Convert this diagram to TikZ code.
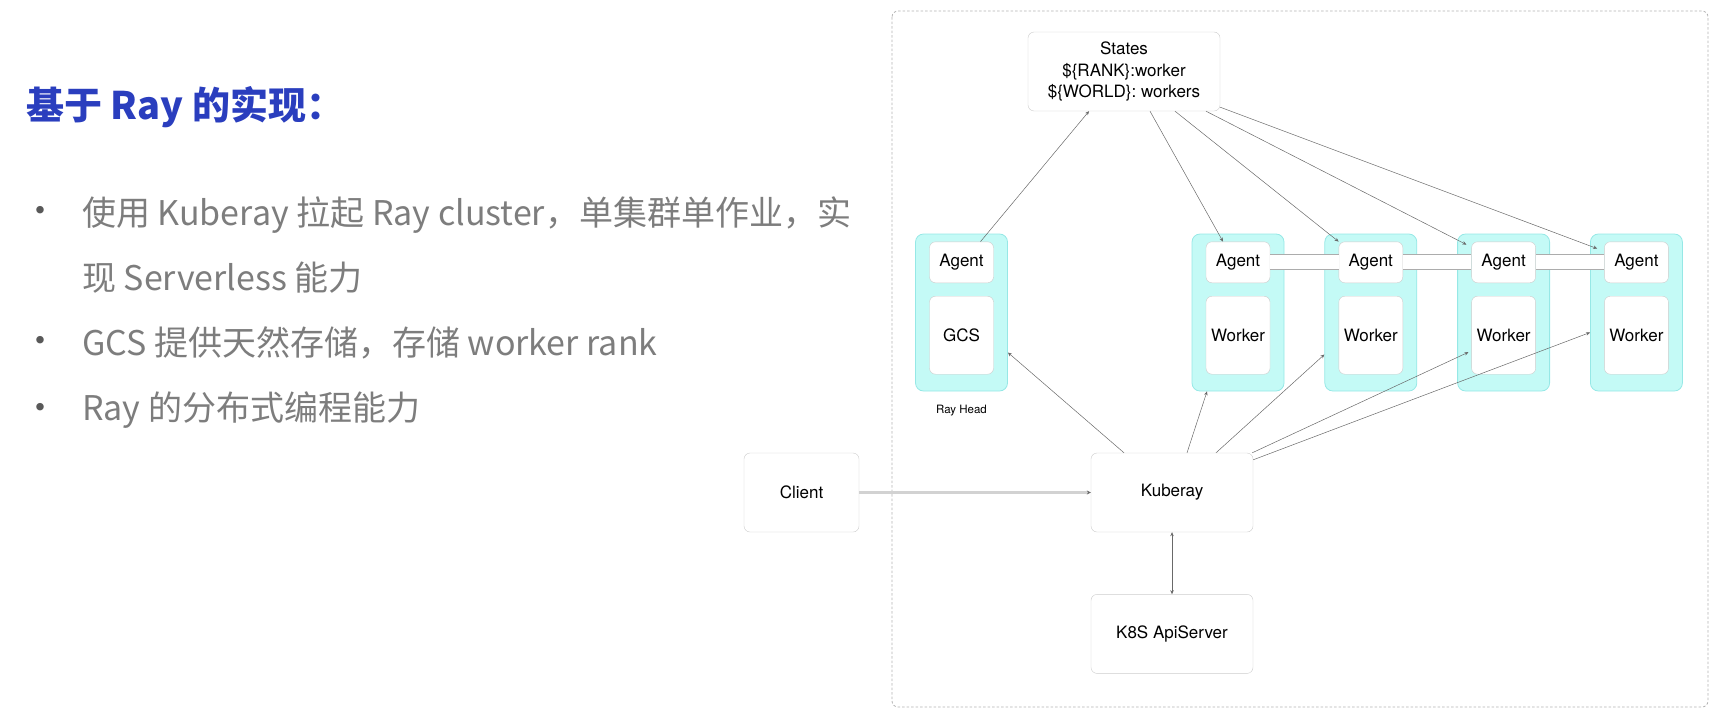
\documentclass[tikz,border=0pt]{standalone}
\usepackage{fontspec}
\setmainfont{TeX Gyre Heros}
\newfontfamily\cjk{Noto Sans CJK SC}
\usetikzlibrary{arrows.meta,positioning}
\definecolor{podfill}{RGB}{196,250,246}
\definecolor{podline}{RGB}{150,232,230}
\definecolor{titleblue}{RGB}{42,62,190}
\definecolor{textgray}{RGB}{125,125,125}
\definecolor{linegray}{RGB}{105,105,105}

\begin{document}
\begin{tikzpicture}[x=1pt,y=-1pt]
	\tikzstyle{box}=[draw=gray!40, fill=white, rounded corners=6pt, inner sep=0pt, align=center, font=\fontsize{17}{21.5}\selectfont]
	\tikzstyle{pod}=[draw=podline, fill=podfill, line width=0.8pt, rounded corners=8pt, minimum width=92pt, minimum height=157pt]
	\tikzstyle{agentbox}=[box, minimum width=64pt, minimum height=41pt]
	\tikzstyle{workbox}=[box, minimum width=64pt, minimum height=78pt]
	\tikzstyle{bigbox}=[box, minimum height=79pt]
	\tikzstyle{conn}=[draw=linegray, line width=0.5pt, -{Stealth[length=4pt,width=3.5pt]}]
	\tikzstyle{conn2}=[draw=linegray, line width=0.5pt, {Stealth[length=4pt,width=3.5pt]}-{Stealth[length=4pt,width=3.5pt]}]
	\tikzstyle{band}=[draw=gray!65, line width=1pt, double=white, double distance=14pt]
	\tikzstyle{dot}=[text=black!65, inner sep=0pt, font=\fontsize{30}{30}\selectfont]
	\tikzstyle{item}=[anchor=west, text=textgray, inner sep=0pt, align=left, font=\cjk\fontsize{34}{65}\selectfont]

	\useasboundingbox (0,0) rectangle (1720,720);

	% left text
	\node[anchor=west, inner sep=0pt, text=titleblue, font=\cjk\bfseries\fontsize{38}{38}\selectfont] (title) at (26,107) {基于 Ray 的实现：};
	\node[dot] (dot1) at (40,213) {\textbullet};
	\node[dot] (dot2) at (40,343) {\textbullet};
	\node[dot] (dot3) at (40,410) {\textbullet};
	\node[item] (item1) at (82,245.5) {使用 Kuberay 拉起 Ray cluster，单集群单作业，实\\现 Serverless 能力};
	\node[item] (item2) at (82,343) {GCS 提供天然存储，存储 worker rank};
	\node[item] (item3) at (82,410) {Ray 的分布式编程能力};

	% cluster frame
	\draw[draw=gray!60, line width=0.8pt, dash pattern=on 2.5pt off 2pt, rounded corners=6pt] (892,11) rectangle (1708,707);

	\node[bigbox, minimum width=192pt] (states) at (1124,71.5) {States\\\$\{RANK\}:worker\\\$\{WORLD\}: workers};

	\node[pod] (head) at (961.5,312.5) {};
	\node[agentbox] (agent0) [below=8pt of head.north] {Agent};
	\node[workbox] (gcs) [below=13pt of agent0] {GCS};
	\node[inner sep=0pt, font=\fontsize{11.5}{12}\selectfont] (headlbl) [below=14pt of head] {Ray Head};

	\node[pod] (pod1) at (1238,312.5) {};
	\node[pod] (pod2) [right=40pt of pod1] {};
	\node[pod] (pod3) [right=40pt of pod2] {};
	\node[pod] (pod4) [right=40pt of pod3] {};

	\node[agentbox] (agent1) [below=8pt of pod1.north] {Agent};
	\node[workbox] (work1) [below=13pt of agent1] {Worker};
	\node[agentbox] (agent2) [below=8pt of pod2.north] {Agent};
	\node[workbox] (work2) [below=13pt of agent2] {Worker};
	\node[agentbox] (agent3) [below=8pt of pod3.north] {Agent};
	\node[workbox] (work3) [below=13pt of agent3] {Worker};
	\node[agentbox] (agent4) [below=8pt of pod4.north] {Agent};
	\node[workbox] (work4) [below=13pt of agent4] {Worker};

	\node[bigbox, minimum width=115pt] (client) at (801.5,492.5) {Client};
	\node[bigbox, minimum width=162pt] (kuberay) at (1172,492.5) {Kuberay};
	\node[bigbox, minimum width=162pt] (apisrv) [below=62pt of kuberay] {K8S ApiServer};

	\draw[band] (agent1) -- (agent2);
	\draw[band] (agent2) -- (agent3);
	\draw[band] (agent3) -- (agent4);

	\draw[conn] ([xshift=19pt]agent0.north) -- ([xshift=-35pt]states.south);
	\draw[conn] ([xshift=26pt]states.south) -- ([xshift=-15pt]agent1.north);
	\draw[conn] ([xshift=51pt]states.south) -- (agent2.north west);
	\draw[conn] ([xshift=82pt]states.south) -- ([xshift=-5pt,yshift=-3pt]agent3.north west);
	\draw[conn] ([yshift=4pt]states.south east) -- ([xshift=-7pt,yshift=-7pt]agent4.north west);

	\draw[conn] ([xshift=-48pt]kuberay.north) -- ([yshift=-40pt]head.east);
	\draw[conn] ([xshift=15pt]kuberay.north) -- ([xshift=-31pt]pod1.south);
	\draw[conn] ([xshift=44pt]kuberay.north) -- ([yshift=-42pt]pod2.west);
	\draw[conn] ([xshift=-1pt]kuberay.north east) -- ([xshift=-3pt,yshift=-17pt]work3.west);
	\draw[conn] ([yshift=-7pt]kuberay.north east) -- ([yshift=-20pt]pod4.west);

	\draw[draw=gray!35, line width=2.5pt, -{Stealth[length=4pt,width=4pt,color=linegray]}] (client) -- (kuberay);
	\draw[conn2] (kuberay) -- (apisrv);
\end{tikzpicture}
\end{document}
